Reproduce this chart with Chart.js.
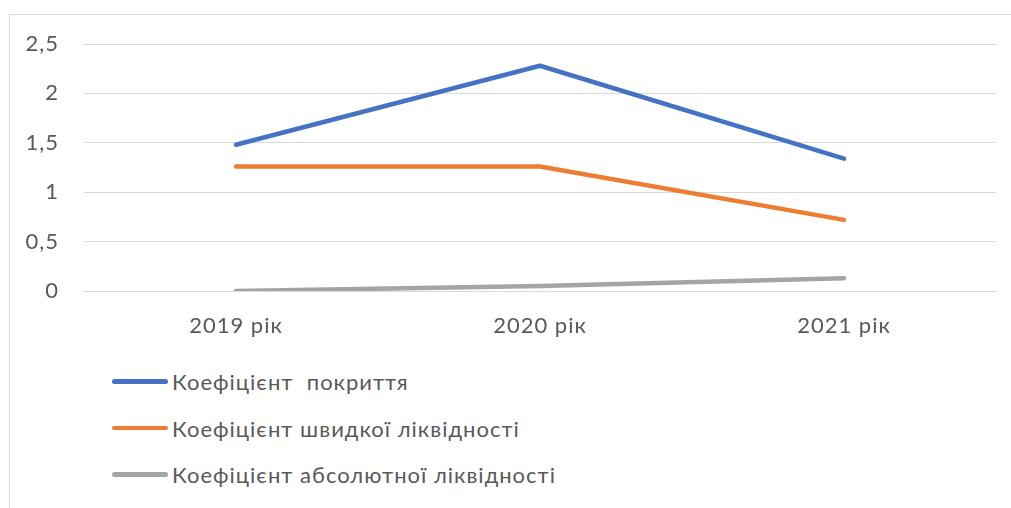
<!DOCTYPE html>
<html>
<head>
<meta charset="utf-8">
<script src="https://cdn.jsdelivr.net/npm/chart.js@4.4.1/dist/chart.umd.min.js"></script>
<style>
    html, body { margin:0; padding:0; background:#fff; }
    body { width:1011px; height:508px; position:relative; overflow:hidden; font-family:Lato, sans-serif; }
    #frame { position:absolute; left:9px; top:14px; width:1100px; height:600px; border-left:1.5px solid #d9d9d9; border-top:1.5px solid #d9d9d9; }
    #wrap { position:absolute; left:0; top:0; width:1011px; height:345px; }
    #legend { position:absolute; left:112px; top:358px; }
    .row { display:flex; align-items:center; height:46.7px; color:#595959; font-size:22px; letter-spacing:1px; }
    .swatch { width:56px; height:4.5px; border-radius:3px; margin-right:4px; }
</style>
</head>
<body>
<div id="frame"></div>
<div id="wrap"><canvas id="chart"></canvas></div>
<div id="legend"></div>
<script>
const years = ['2019 рік', '2020 рік', '2021 рік'];
const coverage = [1.48, 2.28, 1.34];
const quick    = [1.26, 1.26, 0.72];
const absolute = [0.0, 0.05, 0.13];
const yTicks   = [0, 0.5, 1, 1.5, 2, 2.5];

const series = [
    { name: 'Коефіцієнт  покриття',             data: coverage, color: '#4472C4' },
    { name: 'Коефіцієнт швидкої ліквідності',    data: quick,    color: '#ED7D31' },
    { name: 'Коефіцієнт абсолютної ліквідності', data: absolute, color: '#A5A5A5' },
];

document.getElementById('legend').innerHTML = series.map(s => `
    <div class="row"><span class="swatch" style="background:${s.color}"></span><span style="white-space:pre">${s.name}</span></div>`).join('');

// wider text spacing on the canvas, like the reference
const spacing = {
    id: 'spacing',
    beforeDraw: c => { c.ctx.letterSpacing = '1px'; }
};

new Chart(document.getElementById('chart'), {
    type: 'line',
    data: {
        labels: years,
        datasets: series.map(s => ({
            label: s.name, data: s.data, borderColor: s.color, backgroundColor: s.color,
            borderWidth: 4.5, pointRadius: 0, tension: 0, borderCapStyle: 'round', borderJoinStyle: 'round'
        }))
    },
    plugins: [spacing],
    options: {
        responsive: true, maintainAspectRatio: false, animation: false,
        layout: { padding: { top: 44, right: 15, bottom: 0, left: 0 } },
        plugins: { legend: { display: false }, tooltip: { enabled: false } },
        scales: {
            x: {
                offset: true,
                grid: { display: false, drawTicks: false },
                border: { display: false },
                ticks: { color: '#595959', font: { family: 'Lato', size: 22 }, padding: 22 },
                afterFit: a => { a.height = 54; }
            },
            y: {
                min: 0, max: 2.5,
                afterBuildTicks: a => { a.ticks = yTicks.map(v => ({ value: v })); },
                grid: { color: '#d9d9d9', lineWidth: 1, drawTicks: false },
                border: { display: false },
                ticks: {
                    color: '#595959', font: { family: 'Lato', size: 22 }, padding: 25,
                    callback: v => String(v).replace('.', ',')
                },
                afterFit: a => { a.width = 84; }
            }
        }
    }
});
</script>
</body>
</html>
